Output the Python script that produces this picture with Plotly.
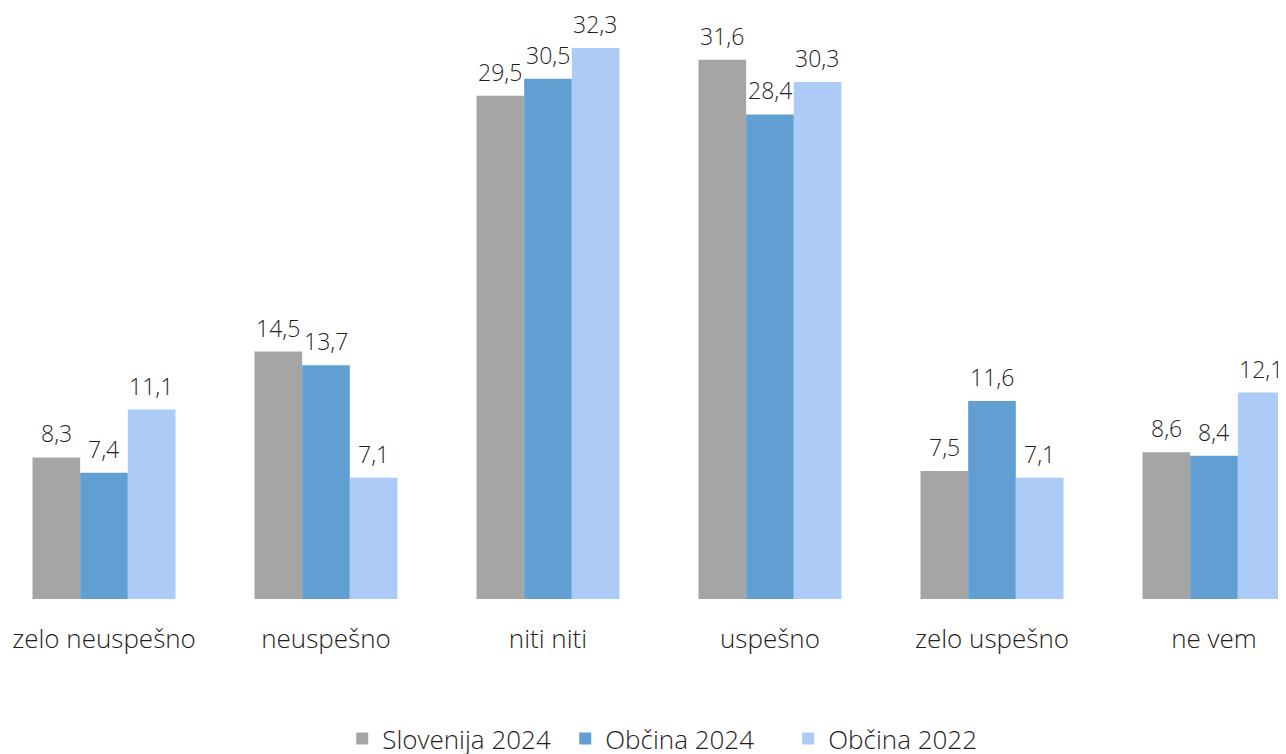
import plotly.graph_objects as go

categories = ["zelo neuspešno", "neuspešno", "niti niti", "uspešno", "zelo uspešno", "ne vem"]
slovenija_2024 = [8.3, 14.5, 29.5, 31.6, 7.5, 8.6]
obcina_2024 = [7.4, 13.7, 30.5, 28.4, 11.6, 8.4]
obcina_2022 = [11.1, 7.1, 32.3, 30.3, 7.1, 12.1]

series = [
    ("Slovenija 2024", slovenija_2024, "#A5A5A5"),
    ("Občina 2024", obcina_2024, "#619FD3"),
    ("Občina 2022", obcina_2022, "#ADCBF7"),
]

FONT = "Open Sans"
TXT = "#1e1e1e"

fig = go.Figure()
for name, vals, col in series:
    fig.add_trace(go.Bar(x=categories, y=vals, name=name, marker_color=col,
                         marker_line_width=0))

# value labels above bars, shifted to each bar of the group
bar_px = 47.5
for k, (name, vals, col) in enumerate(series):
    for c, v in zip(categories, vals):
        fig.add_annotation(x=c, y=v, text=f"{v:.1f}".replace(".", ","),
                           showarrow=False, yanchor="bottom", yshift=7, borderpad=0,
                           xshift=(k - 1) * bar_px,
                           font=dict(family=FONT, size=23, color=TXT, weight=300))

fig.update_layout(
    width=1286, height=754,
    margin=dict(l=0, r=0, t=0, b=161),
    plot_bgcolor="white", paper_bgcolor="white",
    barmode="group", bargap=0.356, bargroupgap=0,
    font=dict(family=FONT, size=22, color=TXT, weight=300),
    showlegend=True,
    legend=dict(orientation="h", x=0.52, xanchor="center", y=-0.236, yanchor="middle",
                font=dict(family=FONT, size=26, color=TXT, weight=300),
                itemwidth=30, entrywidth=178, entrywidthmode="pixels",
                traceorder="normal"),
    xaxis=dict(range=[-0.4324, 5.3604], showline=False, ticks="",
               ticklabelstandoff=22, tickfont=dict(size=26)),
    yaxis=dict(range=[0, 34.64], visible=False, showgrid=False),
)

fig.write_html("out.html")
